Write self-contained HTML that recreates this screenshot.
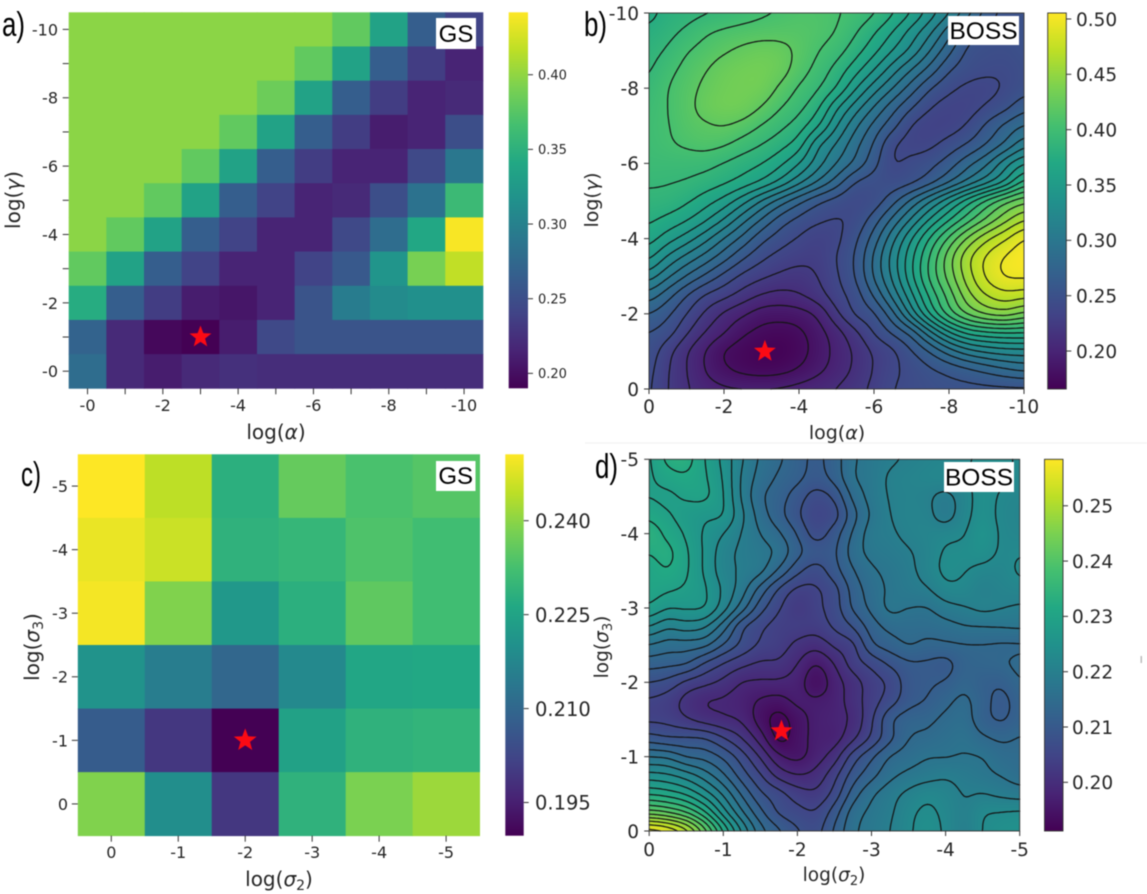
<!DOCTYPE html>
<html lang="en">
<head>
<meta charset="utf-8">
<title>Grid search vs BOSS heatmaps</title>
<style>
html,body{margin:0;padding:0;background:#fff;}
#figure{position:relative;width:1147px;height:894px;overflow:hidden;background:#fff;filter:blur(0.45px);}
canvas{position:absolute;display:block;}
svg{position:absolute;left:0;top:0;}
text{font-family:"DejaVu Sans","Liberation Sans",sans-serif;fill:#262626;}
.tag{font-family:"Liberation Sans",sans-serif;fill:#000;}
</style>
</head>
<body>
<div id="figure">
<canvas id="field-b"></canvas>
<canvas id="field-d"></canvas>
<svg width="1147" height="894" viewBox="0 0 1147 894" xmlns="http://www.w3.org/2000/svg">
<defs id="defs"></defs>
<rect x="585" y="442.5" width="562" height="1" fill="#efefef"></rect>
<rect x="1140.5" y="656" width="1.5" height="7" fill="#bbb"></rect>
<g id="panel-a"></g>
<g id="panel-b"></g>
<g id="panel-c"></g>
<g id="panel-d"></g>

<text class="tag" x="2" y="36" font-size="34" textLength="23" lengthAdjust="spacingAndGlyphs">a)</text>
<text class="tag" x="584" y="36" font-size="34" textLength="23" lengthAdjust="spacingAndGlyphs">b)</text>
<text class="tag" x="21" y="486" font-size="34" textLength="20" lengthAdjust="spacingAndGlyphs">c)</text>
<text class="tag" x="595" y="478" font-size="34" textLength="23" lengthAdjust="spacingAndGlyphs">d)</text>

<g><rect x="436" y="18" width="40" height="31" fill="#fff"></rect><text class="tag" x="456" y="42" font-size="24" text-anchor="middle">GS</text></g>
<g><rect x="948" y="16" width="71" height="29" fill="#fff"></rect><text class="tag" x="983.5" y="39" font-size="24.5" text-anchor="middle">BOSS</text></g>
<g><rect x="436" y="461" width="39.5" height="30" fill="#fff"></rect><text class="tag" x="455.7" y="484" font-size="24" text-anchor="middle">GS</text></g>
<g><rect x="944" y="462" width="70" height="30" fill="#fff"></rect><text class="tag" x="979" y="485.5" font-size="24.5" text-anchor="middle">BOSS</text></g>

<text x="276" y="439" font-size="20" text-anchor="middle">log(<tspan font-style="italic">α</tspan>)</text>
<text transform="translate(20 200) rotate(-90)" font-size="20" text-anchor="middle">log(<tspan font-style="italic">γ</tspan>)</text>
<text x="837" y="439" font-size="19" text-anchor="middle">log(<tspan font-style="italic">α</tspan>)</text>
<text transform="translate(598 200) rotate(-90)" font-size="19" text-anchor="middle">log(<tspan font-style="italic">γ</tspan>)</text>
<text x="279" y="886" font-size="20" text-anchor="middle">log(<tspan font-style="italic">σ</tspan><tspan font-size="14" dy="4">2</tspan><tspan dy="-4">)</tspan></text>
<text transform="translate(39 647) rotate(-90)" font-size="20" text-anchor="middle">log(<tspan font-style="italic">σ</tspan><tspan font-size="14" dy="4">3</tspan><tspan dy="-4">)</tspan></text>
<text x="834" y="881" font-size="18.5" text-anchor="middle">log(<tspan font-style="italic">σ</tspan><tspan font-size="13" dy="4">2</tspan><tspan dy="-4">)</tspan></text>
<text transform="translate(608 647) rotate(-90)" font-size="18.5" text-anchor="middle">log(<tspan font-style="italic">σ</tspan><tspan font-size="13" dy="4">3</tspan><tspan dy="-4">)</tspan></text>
</svg>
</div>
<script>
// ---------- panel a: grid search, rows log(gamma) -10 .. -0, columns log(alpha) -0 .. -10
const gsAlphaGammaValues = [
 [.398,.398,.398,.398,.398,.398,.398,.38,.335,.265,.24],
 [.398,.398,.398,.398,.398,.398,.38,.335,.265,.235,.215],
 [.398,.398,.398,.398,.398,.385,.335,.265,.235,.215,.22],
 [.398,.398,.398,.398,.38,.335,.265,.235,.21,.215,.25],
 [.398,.398,.398,.38,.335,.265,.235,.215,.215,.245,.29],
 [.398,.398,.38,.335,.265,.24,.215,.22,.25,.285,.36],
 [.398,.38,.335,.265,.24,.215,.215,.245,.28,.34,.44],
 [.38,.335,.265,.24,.215,.215,.24,.26,.32,.39,.418],
 [.345,.265,.235,.21,.205,.215,.255,.295,.31,.315,.315],
 [.27,.22,.195,.19,.21,.245,.255,.255,.255,.255,.255],
 [.28,.22,.21,.22,.225,.222,.222,.222,.222,.222,.222]
];
const gsAlphaTicks = [0,-1,-2,-3,-4,-5,-6,-7,-8,-9,-10];
const gsAlphaTickLabels = ['-0','','-2','','-4','','-6','','-8','','-10'];
const gsGammaTicks = [-10,-9,-8,-7,-6,-5,-4,-3,-2,-1,0];
const gsGammaTickLabels = ['-10','','-8','','-6','','-4','','-2','','-0'];
const gsAlphaGammaBarTicks = [.20,.25,.30,.35,.40];
const gsAlphaGammaBarLabels = ['0.20','0.25','0.30','0.35','0.40'];
const gsAlphaGammaBest = [-3,-1];

// ---------- panel b: BOSS surface sampled every 0.5 log unit, rows -10 .. 0, columns 0 .. -10
const bossAlphaGammaValues = [
 [.37,.38,.384,.388,.392,.397,.402,.406,.41,.41,.407,.40,.392,.377,.36,.338,.317,.292,.264,.25,.25],
 [.378,.385,.393,.403,.408,.411,.413,.414,.414,.411,.405,.392,.377,.36,.339,.318,.291,.263,.25,.248,.25],
 [.384,.392,.404,.411,.418,.424,.428,.426,.417,.406,.397,.382,.365,.345,.326,.30,.274,.251,.247,.246,.25],
 [.388,.40,.41,.419,.428,.432,.433,.428,.413,.40,.385,.367,.346,.322,.30,.279,.256,.247,.243,.242,.247],
 [.393,.405,.414,.424,.431,.433,.432,.417,.403,.392,.375,.347,.322,.30,.277,.255,.243,.236,.235,.241,.249],
 [.397,.405,.415,.427,.432,.431,.42,.406,.395,.379,.348,.323,.299,.276,.256,.24,.233,.233,.241,.25,.265],
 [.399,.404,.413,.418,.421,.415,.404,.394,.383,.363,.331,.303,.28,.26,.238,.231,.232,.241,.258,.274,.286],
 [.398,.403,.408,.411,.407,.398,.39,.381,.368,.332,.313,.29,.268,.24,.234,.236,.246,.256,.27,.287,.31],
 [.396,.396,.396,.395,.389,.382,.376,.364,.346,.322,.30,.282,.26,.238,.244,.25,.262,.28,.297,.325,.345],
 [.392,.391,.389,.384,.378,.37,.359,.342,.32,.299,.278,.253,.247,.245,.25,.263,.282,.303,.323,.345,.38],
 [.386,.385,.378,.367,.355,.336,.313,.292,.273,.257,.248,.24,.245,.264,.289,.315,.342,.37,.396,.418,.432],
 [.378,.371,.362,.348,.329,.305,.283,.262,.25,.242,.238,.243,.262,.289,.318,.348,.374,.399,.423,.446,.465],
 [.367,.352,.338,.32,.299,.28,.259,.247,.238,.231,.236,.251,.277,.311,.345,.378,.409,.439,.463,.479,.497],
 [.349,.327,.31,.294,.276,.257,.243,.234,.229,.228,.24,.256,.288,.322,.357,.393,.43,.463,.484,.498,.505],
 [.323,.303,.284,.267,.25,.236,.228,.222,.219,.225,.238,.255,.287,.319,.357,.395,.427,.459,.484,.498,.499],
 [.294,.276,.255,.238,.23,.219,.209,.205,.209,.219,.234,.247,.272,.305,.342,.38,.412,.446,.467,.476,.472],
 [.27,.258,.24,.222,.207,.197,.187,.186,.188,.197,.222,.243,.252,.28,.322,.364,.40,.425,.44,.445,.432],
 [.255,.247,.227,.209,.196,.182,.175,.172,.176,.188,.203,.221,.241,.257,.274,.31,.343,.365,.372,.375,.375],
 [.249,.23,.211,.194,.178,.172,.167,.167,.173,.186,.199,.212,.227,.236,.253,.27,.291,.308,.317,.322,.323],
 [.245,.226,.21,.194,.182,.175,.172,.174,.181,.191,.201,.213,.226,.237,.244,.252,.258,.265,.273,.281,.287],
 [.243,.225,.212,.202,.198,.197,.197,.198,.201,.205,.211,.219,.229,.24,.244,.247,.25,.25,.25,.25,.25]
];
const bossAlphaTicks = [0,-2,-4,-6,-8,-10];
const bossAlphaTickLabels = ['0','-2','-4','-6','-8','-10'];
const bossGammaTicks = [-10,-8,-6,-4,-2,0];
const bossGammaTickLabels = ['-10','-8','-6','-4','-2','0'];
const bossAlphaGammaBarTicks = [.20,.25,.30,.35,.40,.45,.50];
const bossAlphaGammaBarLabels = ['0.20','0.25','0.30','0.35','0.40','0.45','0.50'];
const bossAlphaGammaLevels = [.18,.195,.21,.225,.24,.255,.27,.285,.30,.315,.33,.345,.36,.375,.39,.405,.42,.435,.45,.465,.48,.495];
const bossAlphaGammaBest = [-3.09,-1];

// ---------- panel c: grid search, rows log(sigma3) -5 .. 0, columns log(sigma2) 0 .. -5
const gsSigmaValues = [
 [.2506,.2445,.2281,.2360,.2329,.2342],
 [.2488,.2457,.2287,.2299,.2335,.2317],
 [.2497,.2390,.2220,.2281,.2354,.2317],
 [.2208,.2153,.2098,.2183,.2256,.2262],
 [.2074,.1994,.1897,.2244,.2287,.2293],
 [.2390,.2195,.1994,.2287,.2384,.2415]
];
const gsSigma2Ticks = [0,-1,-2,-3,-4,-5];
const gsSigma2TickLabels = ['0','-1','-2','-3','-4','-5'];
const gsSigma3Ticks = [-5,-4,-3,-2,-1,0];
const gsSigma3TickLabels = ['-5','-4','-3','-2','-1','0'];
const gsSigmaBarTicks = [.195,.210,.225,.240];
const gsSigmaBarLabels = ['0.195','0.210','0.225','0.240'];
const gsSigmaBest = [-2,-1];

// ---------- panel d: BOSS surface (thousandths) sampled every 0.25 log unit, rows -5 .. 0, columns 0 .. -5
const bossSigmaMilli = [
 [228.5,233,233.5,229,225.2,220.3,216.5,214.5,212.2,210.3,212.5,216.6,218.3,219.5,220.4,221.2,221.8,222.6,223.5,223.8,222.5],
 [228.5,230.5,231.5,229.5,225.8,219.5,215.8,213.5,211.8,209.8,212,216.8,218.3,220.5,221.2,221.8,222.2,222.8,224,223.8,222.5],
 [228.8,228.2,229.5,229.8,226.3,219.5,214.5,212.3,209.5,206.5,208.5,214.8,218.2,220.3,221,220.5,219,221.5,224.5,222.5,221.8],
 [231.2,229.3,227.6,226.6,226.2,220.7,215.5,212,208.5,205,206.5,212.8,217.5,220,221.2,220.8,218.5,221.8,224.5,222.2,221.5],
 [234,231.2,228.5,225.5,223,219.8,217,214.5,210.8,206.5,209.5,214.5,218.5,219.5,220.8,221.5,222,222.8,225.5,222.5,221.8],
 [232.2,233,229.5,225.5,221.3,219.3,218.2,216.5,212,209.5,210.5,215.5,218,218.8,219.7,221.2,223.5,223.8,224.5,222.5,222.8],
 [230.5,232,229.5,225.5,221.3,219.5,218,213.5,208.8,206.5,209.8,213.8,216.5,217.8,219.2,221.3,223.8,223.2,222,221.8,223.5],
 [230.5,229.5,228.5,226.5,222.5,218.5,212.8,207.5,204.2,204.5,206.8,212.2,215.5,217.5,218.7,219.7,222.2,222.2,220.3,221.2,221.8],
 [228.5,226.2,226.5,226.2,221.5,215.5,209.2,205.2,202.5,204.2,206.5,211.5,214.8,217.8,217,216.8,218.8,219.8,220.8,220.2,219.5],
 [223,220.5,221.5,220.5,215.5,208.5,205.5,203.8,203.5,203.3,205.5,208.2,212.5,215,215.2,215.2,215.8,216.8,217,217.2,217.5],
 [216.8,215.5,215.5,214.8,210.8,207.2,204.5,203.5,201.2,200,202.5,204.2,210.5,212.5,214.2,213.2,213.5,213.8,213.8,213.5,213.5],
 [212.3,211.8,211.2,207.5,204.8,202.8,201.5,201.5,199,195.8,199,203.5,205.8,208.5,210.5,210.5,209.8,212.5,213.2,213.6,214.8],
 [208,207,204.2,202.8,201.2,198.8,198.5,198.5,197.5,193.5,197.5,200.5,203.5,205.5,209.5,210.5,211.2,213.2,211.8,211.5,213.8],
 [204.5,203.5,200.8,198.8,198.5,197.5,195.5,194.8,196.8,196.5,197.5,200.5,203.5,206.5,209.8,211.2,213.2,214.8,212.2,209.8,212.5],
 [204.3,204,202.2,200.5,199.5,198.5,194.5,191.5,194.5,197,197.8,199.5,204.5,210.5,212.8,213.2,214.8,215.5,212,210.5,212.5],
 [209.3,208.2,208.3,208,205.2,202,197.5,191.8,194.5,197,197.5,201.2,205.5,210.2,214,214.8,215.8,216.5,214.5,213.5,214.2],
 [217,216.5,213.8,213,210.5,206.5,201.7,196.5,195,197.5,200.5,206.5,210.5,214.2,215.5,216.8,216.8,217.2,217,215.2,214.8],
 [224.2,223.5,221.5,218.5,214.5,209.5,205.3,200.8,199,200,204,209.5,213,216.2,217.8,218.8,219.6,218.8,217.8,216.8,215.5],
 [231.5,230.5,228.5,224.5,219.5,213.5,208.5,206.2,203.5,202.5,206,212.5,216.5,218.8,220.8,222.2,221.5,219.8,220.1,219.2,218.5],
 [242.5,241,238,232.5,224.5,217.5,211.8,207.5,206,205.2,209.5,215.5,217.8,219.5,222.2,223.8,222.2,220.2,222.8,223.2,223.5],
 [258,256.2,251.5,242.5,232,222.8,215.3,211.5,208.3,206.8,211.5,216.5,218.2,220,222.5,224.5,222.5,219.8,223.2,224.5,224.8]
];
const bossSigma2Ticks = [0,-1,-2,-3,-4,-5];
const bossSigma2TickLabels = ['0','-1','-2','-3','-4','-5'];
const bossSigma3Ticks = [-5,-4,-3,-2,-1,0];
const bossSigma3TickLabels = ['-5','-4','-3','-2','-1','0'];
const bossSigmaBarTicks = [.20,.21,.22,.23,.24,.25];
const bossSigmaBarLabels = ['0.20','0.21','0.22','0.23','0.24','0.25'];
const bossSigmaLevels = [.193,.196,.199,.202,.205,.208,.211,.214,.217,.22,.223,.226,.229,.232,.235,.238,.241,.244,.247,.25,.253,.256];
const bossSigmaBest = [-1.785,-1.345];

// ---------- colour map
const viridisStops = ['#440154','#482475','#414487','#355f8d','#2a788e','#21918c','#22a884','#44bf70','#7ad151','#bddf26','#fde725'];
const viridisRGB = viridisStops.map(function(h){return [parseInt(h.slice(1,3),16),parseInt(h.slice(3,5),16),parseInt(h.slice(5,7),16)];});
function viridis(t){
  t = Math.max(0,Math.min(1,t))*10;
  const i = Math.min(9,Math.floor(t)), f = t-i;
  const a = viridisRGB[i], b = viridisRGB[i+1];
  return [a[0]+(b[0]-a[0])*f, a[1]+(b[1]-a[1])*f, a[2]+(b[2]-a[2])*f];
}
function css(c){return 'rgb('+Math.round(c[0])+','+Math.round(c[1])+','+Math.round(c[2])+')';}

// ---------- helpers
const NS = 'http://www.w3.org/2000/svg';
function make(tag,parent,props){
  const el = document.createElementNS(NS,tag);
  for(const k in props){el.setAttribute(k,props[k]);}
  parent.appendChild(el);
  return el;
}
function linear(d0,d1,r0,r1){return function(v){return r0+(v-d0)/(d1-d0)*(r1-r0);};}

function drawAxes(g,spec){
  spec.xTicks.forEach(function(v,i){
    const x = spec.xScale(v);
    const tick = make('line',g,{x1:x,x2:x,y1:spec.bottom,y2:spec.bottom+spec.tickLen,stroke:'#333','stroke-width':1});
    
    
    if(spec.xLabels[i]){
      const t = make('text',g,{x:x,y:spec.xLabelY,'text-anchor':'middle','font-size':spec.font});
      
      
      t.textContent = spec.xLabels[i];
    }
  });
  spec.yTicks.forEach(function(v,i){
    const y = spec.yScale(v);
    const tick = make('line',g,{x1:spec.left-spec.tickLen,x2:spec.left,y1:y,y2:y,stroke:'#333','stroke-width':1});
    
    
    if(spec.yLabels[i]){
      const t = make('text',g,{x:spec.yLabelX,y:y+spec.font*0.37,'text-anchor':'end','font-size':spec.font});
      
      
      t.textContent = spec.yLabels[i];
    }
  });
}

function drawColorbar(g,spec){
  const id = 'grad-'+spec.id;
  const grad = make('linearGradient',document.getElementById('defs'),{id:id,x1:0,y1:1,x2:0,y2:0});
  viridisStops.forEach(function(c,i){
    make('stop',grad,{offset:i/10,'stop-color':c});
  });
  const bar = make('rect',g,{x:spec.x0,y:spec.y0,width:spec.x1-spec.x0,height:spec.y1-spec.y0,fill:'url(#'+id+')'});
  
  
  if(spec.outline){
    bar.setAttribute('stroke','#333');
    bar.setAttribute('stroke-width','0.9');
  }
  const scale = linear(spec.vmin,spec.vmax,spec.y1,spec.y0);
  spec.ticks.forEach(function(v,i){
    const y = scale(v);
    const tick = make('line',g,{x1:spec.x1,x2:spec.x1+5,y1:y,y2:y,stroke:'#333','stroke-width':1});
    
    
    const t = make('text',g,{x:spec.labelX,y:y+spec.font*0.37,'font-size':spec.font});
    
    
    t.textContent = spec.labels[i];
  });
}

function drawStar(g,cx,cy,r){
  const pts = [];
  for(let k=0;k<10;k++){
    const rad = k%2===0 ? r : r*0.42;
    const ang = -Math.PI/2+k*Math.PI/5;
    pts.push((cx+rad*Math.cos(ang)).toFixed(2)+','+(cy+rad*Math.sin(ang)).toFixed(2));
  }
  const star = make('polygon',g,{points:pts.join(' '),fill:'#fb0a14'});
  
  
}

function drawHeat(g,values,spec){
  values.forEach(function(row,r){
    row.forEach(function(v,c){
      const x0 = spec.xScale(spec.xTicks[c]-0.5*spec.sign), x1 = spec.xScale(spec.xTicks[c]+0.5*spec.sign);
      const y0 = spec.yScale(spec.yTicks[r]-0.5*spec.sign), y1 = spec.yScale(spec.yTicks[r]+0.5*spec.sign);
      const cell = make('rect',g,{x:Math.min(x0,x1),y:Math.min(y0,y1),width:Math.abs(x1-x0)+0.4,height:Math.abs(y1-y0)+0.4,
        fill:css(viridis((v-spec.vmin)/(spec.vmax-spec.vmin)))});
      
      
    });
  });
}

// Blend of Catmull-Rom (s=0, passes through samples) and cubic B-spline (s=1, smoothest)
function cubic(a,b,c,d,t,s){
  const t2 = t*t, t3 = t2*t;
  const cr = 0.5*(2*b+(c-a)*t+(2*a-5*b+4*c-d)*t2+(3*b-a-3*c+d)*t3);
  const bs = ((1-t)*(1-t)*(1-t)*a+(3*t3-6*t2+4)*b+(-3*t3+3*t2+3*t+1)*c+t3*d)/6;
  return cr*(1-s)+bs*s;
}
function sampler(grid,s){
  const nr = grid.length, nc = grid[0].length;
  function at(r,c){return grid[Math.max(0,Math.min(nr-1,r))][Math.max(0,Math.min(nc-1,c))];}
  return function(u,v){
    const c = Math.min(nc-2,Math.floor(u)), r = Math.min(nr-2,Math.floor(v));
    const fu = u-c, fv = v-r, col = [];
    for(let k=-1;k<=2;k++){
      col.push(cubic(at(r+k,c-1),at(r+k,c),at(r+k,c+1),at(r+k,c+2),fu,s));
    }
    return cubic(col[0],col[1],col[2],col[3],fv,s);
  };
}

function paintField(canvasId,grid,box,vmin,vmax,s){
  const cv = document.getElementById(canvasId);
  const w = Math.round(box.x1-box.x0), h = Math.round(box.y1-box.y0);
  cv.width = w; cv.height = h;
  cv.style.left = box.x0+'px'; cv.style.top = box.y0+'px';
  cv.style.width = (box.x1-box.x0)+'px'; cv.style.height = (box.y1-box.y0)+'px';
  const ctx = cv.getContext('2d'), img = ctx.createImageData(w,h), f = sampler(grid,s);
  const nc = grid[0].length-1, nr = grid.length-1;
  for(let y=0;y<h;y++){
    for(let x=0;x<w;x++){
      const v = f((x+0.5)/w*nc,(y+0.5)/h*nr);
      const c = viridis((v-vmin)/(vmax-vmin));
      const o = (y*w+x)*4;
      img.data[o]=c[0];img.data[o+1]=c[1];img.data[o+2]=c[2];img.data[o+3]=255;
    }
  }
  ctx.putImageData(img,0,0);
}

// marching squares over an upsampled copy of the grid
function drawContours(g,grid,levels,box,s){
  const f = sampler(grid,s), nc = grid[0].length-1, nr = grid.length-1, K = 8;
  const W = nc*K, H = nr*K, F = [];
  for(let j=0;j<=H;j++){
    const row = [];
    for(let i=0;i<=W;i++){row.push(f(i/K,j/K));}
    F.push(row);
  }
  const sx = (box.x1-box.x0)/W, sy = (box.y1-box.y0)/H;
  levels.forEach(function(L){
    let d = '';
    function cross(a,b){return (L-a)/(b-a);}
    for(let j=0;j<H;j++){
      for(let i=0;i<W;i++){
        const a=F[j][i], b=F[j][i+1], c=F[j+1][i+1], e=F[j+1][i];
        const pts = [];
        if((a<L)!==(b<L)){pts.push([i+cross(a,b),j]);}
        if((b<L)!==(c<L)){pts.push([i+1,j+cross(b,c)]);}
        if((e<L)!==(c<L)){pts.push([i+cross(e,c),j+1]);}
        if((a<L)!==(e<L)){pts.push([i,j+cross(a,e)]);}
        for(let k=0;k+1<pts.length;k+=2){
          d += 'M'+(box.x0+pts[k][0]*sx).toFixed(1)+' '+(box.y0+pts[k][1]*sy).toFixed(1)+
               'L'+(box.x0+pts[k+1][0]*sx).toFixed(1)+' '+(box.y0+pts[k+1][1]*sy).toFixed(1);
        }
      }
    }
    const path = make('path',g,{d:d,fill:'none',stroke:'#141414','stroke-width':1.2,'stroke-linecap':'round'});
    
    
  });
}

function frame(g,box){
  const r = make('rect',g,{x:box.x0,y:box.y0,width:box.x1-box.x0,height:box.y1-box.y0,fill:'none',stroke:'#333','stroke-width':0.9});
  
  
}

// ---------- panel a
(function(){
  const g = document.getElementById('panel-a');
  const box = {x0:68.7,x1:482.9,y0:12.3,y1:388.3};
  const xScale = linear(0.5,-10.5,box.x0,box.x1), yScale = linear(-10.5,0.5,box.y0,box.y1);
  const vmin = .19, vmax = .4418;
  drawHeat(g,gsAlphaGammaValues,{xScale:xScale,yScale:yScale,xTicks:gsAlphaTicks,yTicks:gsGammaTicks,sign:1,vmin:vmin,vmax:vmax});
  drawAxes(g,{xScale:xScale,yScale:yScale,xTicks:gsAlphaTicks,yTicks:gsGammaTicks,xLabels:gsAlphaTickLabels,yLabels:gsGammaTickLabels,
    left:box.x0,bottom:box.y1,tickLen:6,font:16,xLabelY:411,yLabelX:58});
  drawColorbar(g,{id:'a',x0:508.7,x1:528,y0:box.y0,y1:box.y1,vmin:vmin,vmax:vmax,ticks:gsAlphaGammaBarTicks,labels:gsAlphaGammaBarLabels,font:13,labelX:538});
  drawStar(g,xScale(gsAlphaGammaBest[0]),yScale(gsAlphaGammaBest[1]),11.5);
})();

// ---------- panel b
(function(){
  const g = document.getElementById('panel-b');
  const box = {x0:649,x1:1024,y0:13,y1:389};
  const xScale = linear(0,-10,box.x0,box.x1), yScale = linear(-10,0,box.y0,box.y1);
  const vmin = .1657, vmax = .5054;
  paintField('field-b',bossAlphaGammaValues,box,vmin,vmax,0.6);
  drawContours(g,bossAlphaGammaValues,bossAlphaGammaLevels,box,0.6);
  frame(g,box);
  drawAxes(g,{xScale:xScale,yScale:yScale,xTicks:bossAlphaTicks,yTicks:bossGammaTicks,xLabels:bossAlphaTickLabels,yLabels:bossGammaTickLabels,
    left:box.x0,bottom:box.y1,tickLen:5,font:18.5,xLabelY:413,yLabelX:639});
  drawColorbar(g,{id:'b',x0:1047.7,x1:1066.3,y0:box.y0,y1:box.y1,vmin:vmin,vmax:vmax,ticks:bossAlphaGammaBarTicks,labels:bossAlphaGammaBarLabels,font:18.5,labelX:1076,outline:true});
  drawStar(g,xScale(bossAlphaGammaBest[0]),yScale(bossAlphaGammaBest[1]),11.5);
})();

// ---------- panel c
(function(){
  const g = document.getElementById('panel-c');
  const box = {x0:77.8,x1:479.6,y0:454.3,y1:835.7};
  const xScale = linear(0.5,-5.5,box.x0,box.x1), yScale = linear(-5.5,0.5,box.y0,box.y1);
  const vmin = .1897, vmax = .2506;
  drawHeat(g,gsSigmaValues,{xScale:xScale,yScale:yScale,xTicks:gsSigma2Ticks,yTicks:gsSigma3Ticks,sign:1,vmin:vmin,vmax:vmax});
  drawAxes(g,{xScale:xScale,yScale:yScale,xTicks:gsSigma2Ticks,yTicks:gsSigma3Ticks,xLabels:gsSigma2TickLabels,yLabels:gsSigma3TickLabels,
    left:box.x0,bottom:box.y1,tickLen:6,font:16,xLabelY:858,yLabelX:68});
  drawColorbar(g,{id:'c',x0:505.3,x1:523.7,y0:box.y0,y1:box.y1,vmin:vmin,vmax:vmax,ticks:gsSigmaBarTicks,labels:gsSigmaBarLabels,font:19.5,labelX:535});
  drawStar(g,xScale(gsSigmaBest[0]),yScale(gsSigmaBest[1]),12);
})();

// ---------- panel d
(function(){
  const g = document.getElementById('panel-d');
  const box = {x0:649.2,x1:1019.7,y0:459.3,y1:831};
  const xScale = linear(0,-5,box.x0,box.x1), yScale = linear(-5,0,box.y0,box.y1);
  const vmin = .1912, vmax = .2584;
  const grid = bossSigmaMilli.map(function(r){return r.map(function(v){return v/1000;});});
  paintField('field-d',grid,box,vmin,vmax,0.4);
  drawContours(g,grid,bossSigmaLevels,box,0.4);
  frame(g,box);
  drawAxes(g,{xScale:xScale,yScale:yScale,xTicks:bossSigma2Ticks,yTicks:bossSigma3Ticks,xLabels:bossSigma2TickLabels,yLabels:bossSigma3TickLabels,
    left:box.x0,bottom:box.y1,tickLen:5,font:18.5,xLabelY:856,yLabelX:639});
  drawColorbar(g,{id:'d',x0:1044.5,x1:1063,y0:box.y0,y1:box.y1,vmin:vmin,vmax:vmax,ticks:bossSigmaBarTicks,labels:bossSigmaBarLabels,font:18.5,labelX:1072,outline:true});
  drawStar(g,xScale(bossSigmaBest[0]),yScale(bossSigmaBest[1]),11.5);
})();
</script>
</body>
</html>
